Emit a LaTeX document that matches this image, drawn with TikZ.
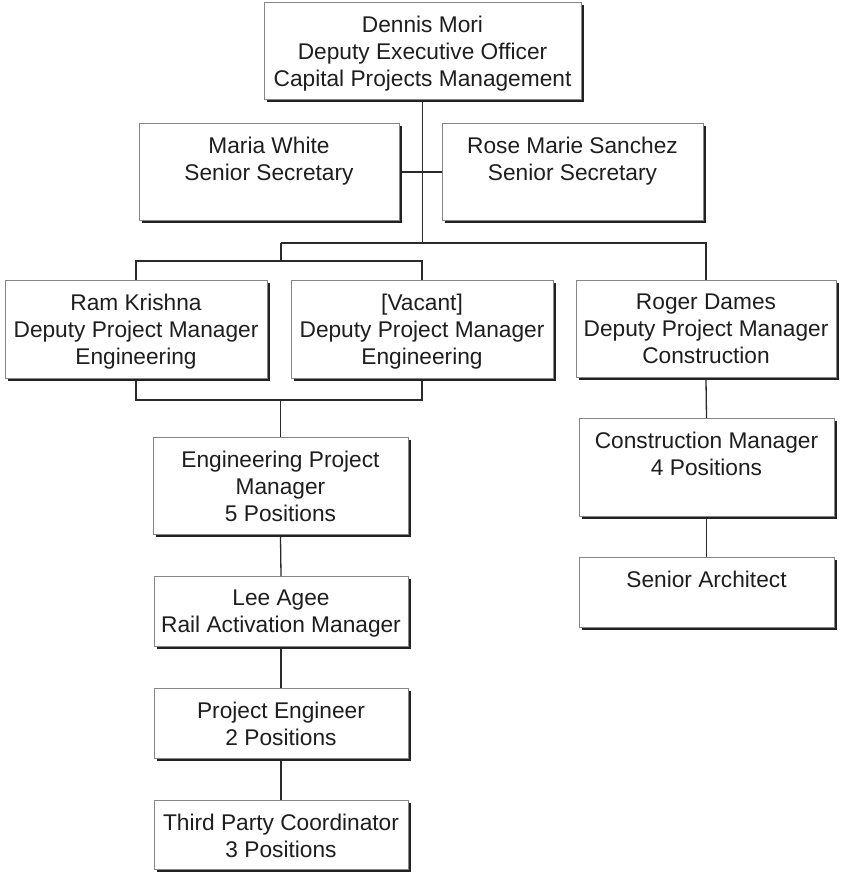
\documentclass[tikz,border=0pt]{standalone}
\usepackage{fontspec}
\setmainfont{Liberation Sans}
\definecolor{shadowc}{HTML}{222222}
\definecolor{borderc}{HTML}{858585}
\definecolor{linec}{HTML}{2A2A2A}
\definecolor{textc}{HTML}{1E1E1E}
\tikzset{
  orgb/.style={draw=borderc, line width=0.8pt, fill=white, rectangle, inner sep=0pt, outer sep=0pt},
  orgt/.style={anchor=north, inner sep=0pt, align=center, text=textc, font=\fontsize{22.7}{27}\selectfont},
  conn/.style={draw=linec, line width=1.3pt}
}
\newcommand{\orgbox}[6]{%
  \fill[shadowc] (#2+3,#3+3) rectangle (#4+3,#5+3);
  \node[orgb, minimum width={#4-#2}, minimum height={#5-#3}] (#1) at ({(#2+#4)/2},{(#3+#5)/2}) {};
  \node[orgt] (#1-t) at ({(#2+#4)/2},#3+14) {#6};
}
\begin{document}
\begin{tikzpicture}[x=1pt,y=-1pt]
\useasboundingbox[fill=white] (0,0) rectangle (840,874);

\coordinate (secy) at (0,172);
\coordinate (barL) at (281,243);
\coordinate (suby) at (0,261);
\coordinate (brky) at (0,400);

\orgbox{top}{264}{2}{581}{99}{Dennis Mori\\Deputy Executive Officer\\Capital Projects Management}
\orgbox{maria}{139}{123}{399}{220}{Maria White\\Senior Secretary}
\orgbox{rose}{442}{123}{703}{220}{Rose Marie Sanchez\\Senior Secretary}
\orgbox{ram}{5}{280}{267}{378}{Ram Krishna\\Deputy Project Manager\\Engineering}
\orgbox{vac}{291}{280}{553}{378}{[Vacant]\\Deputy Project Manager\\Engineering}
\orgbox{roger}{576}{280}{836}{377}{Roger Dames\\Deputy Project Manager\\Construction}
\orgbox{engpm}{153}{437}{408}{534}{Engineering Project\\Manager\\5 Positions}
\orgbox{lee}{154}{576}{408}{646}{Lee Agee\\Rail Activation Manager}
\orgbox{pe}{154}{688}{408}{758}{Project Engineer\\2 Positions}
\orgbox{tpc}{154}{800}{408}{869}{Third Party Coordinator\\3 Positions}
\orgbox{cm}{579}{418}{834}{516}{Construction Manager\\4 Positions}
\orgbox{sa}{579}{557}{834}{627}{Senior Architect}

% top to bar
\draw[conn] ([yshift=-3pt]top.south) -- (top.south |- barL);
% secretaries
\draw[conn] ([xshift=3pt]maria.east |- secy) -- (rose.west |- secy);
% main bar to Roger
\draw[conn] (barL) -- (roger.north |- barL) -- (roger.north);
% drop to sub bar
\draw[conn] (barL) -- (barL |- suby);
% sub bar to Ram and Vacant
\draw[conn] (ram.north) -- (ram.north |- suby) -- (vac.north |- suby) -- (vac.north);
% bracket under Ram and Vacant
\draw[conn] ([yshift=-3pt]ram.south) -- (ram.south |- brky) -- (vac.south |- brky) -- ([yshift=-3pt]vac.south);
\draw[conn] (engpm.north |- brky) -- (engpm.north);
% engineering column
\draw[conn] ([yshift=-3pt]engpm.south) -- (lee.north);
\draw[conn] ([yshift=-3pt]lee.south) -- (pe.north);
\draw[conn] ([yshift=-3pt]pe.south) -- (tpc.north);
% construction column
\draw[conn] ([yshift=-3pt]roger.south) -- (cm.north);
\draw[conn] ([yshift=-3pt]cm.south) -- (sa.north);
\end{tikzpicture}
\end{document}
